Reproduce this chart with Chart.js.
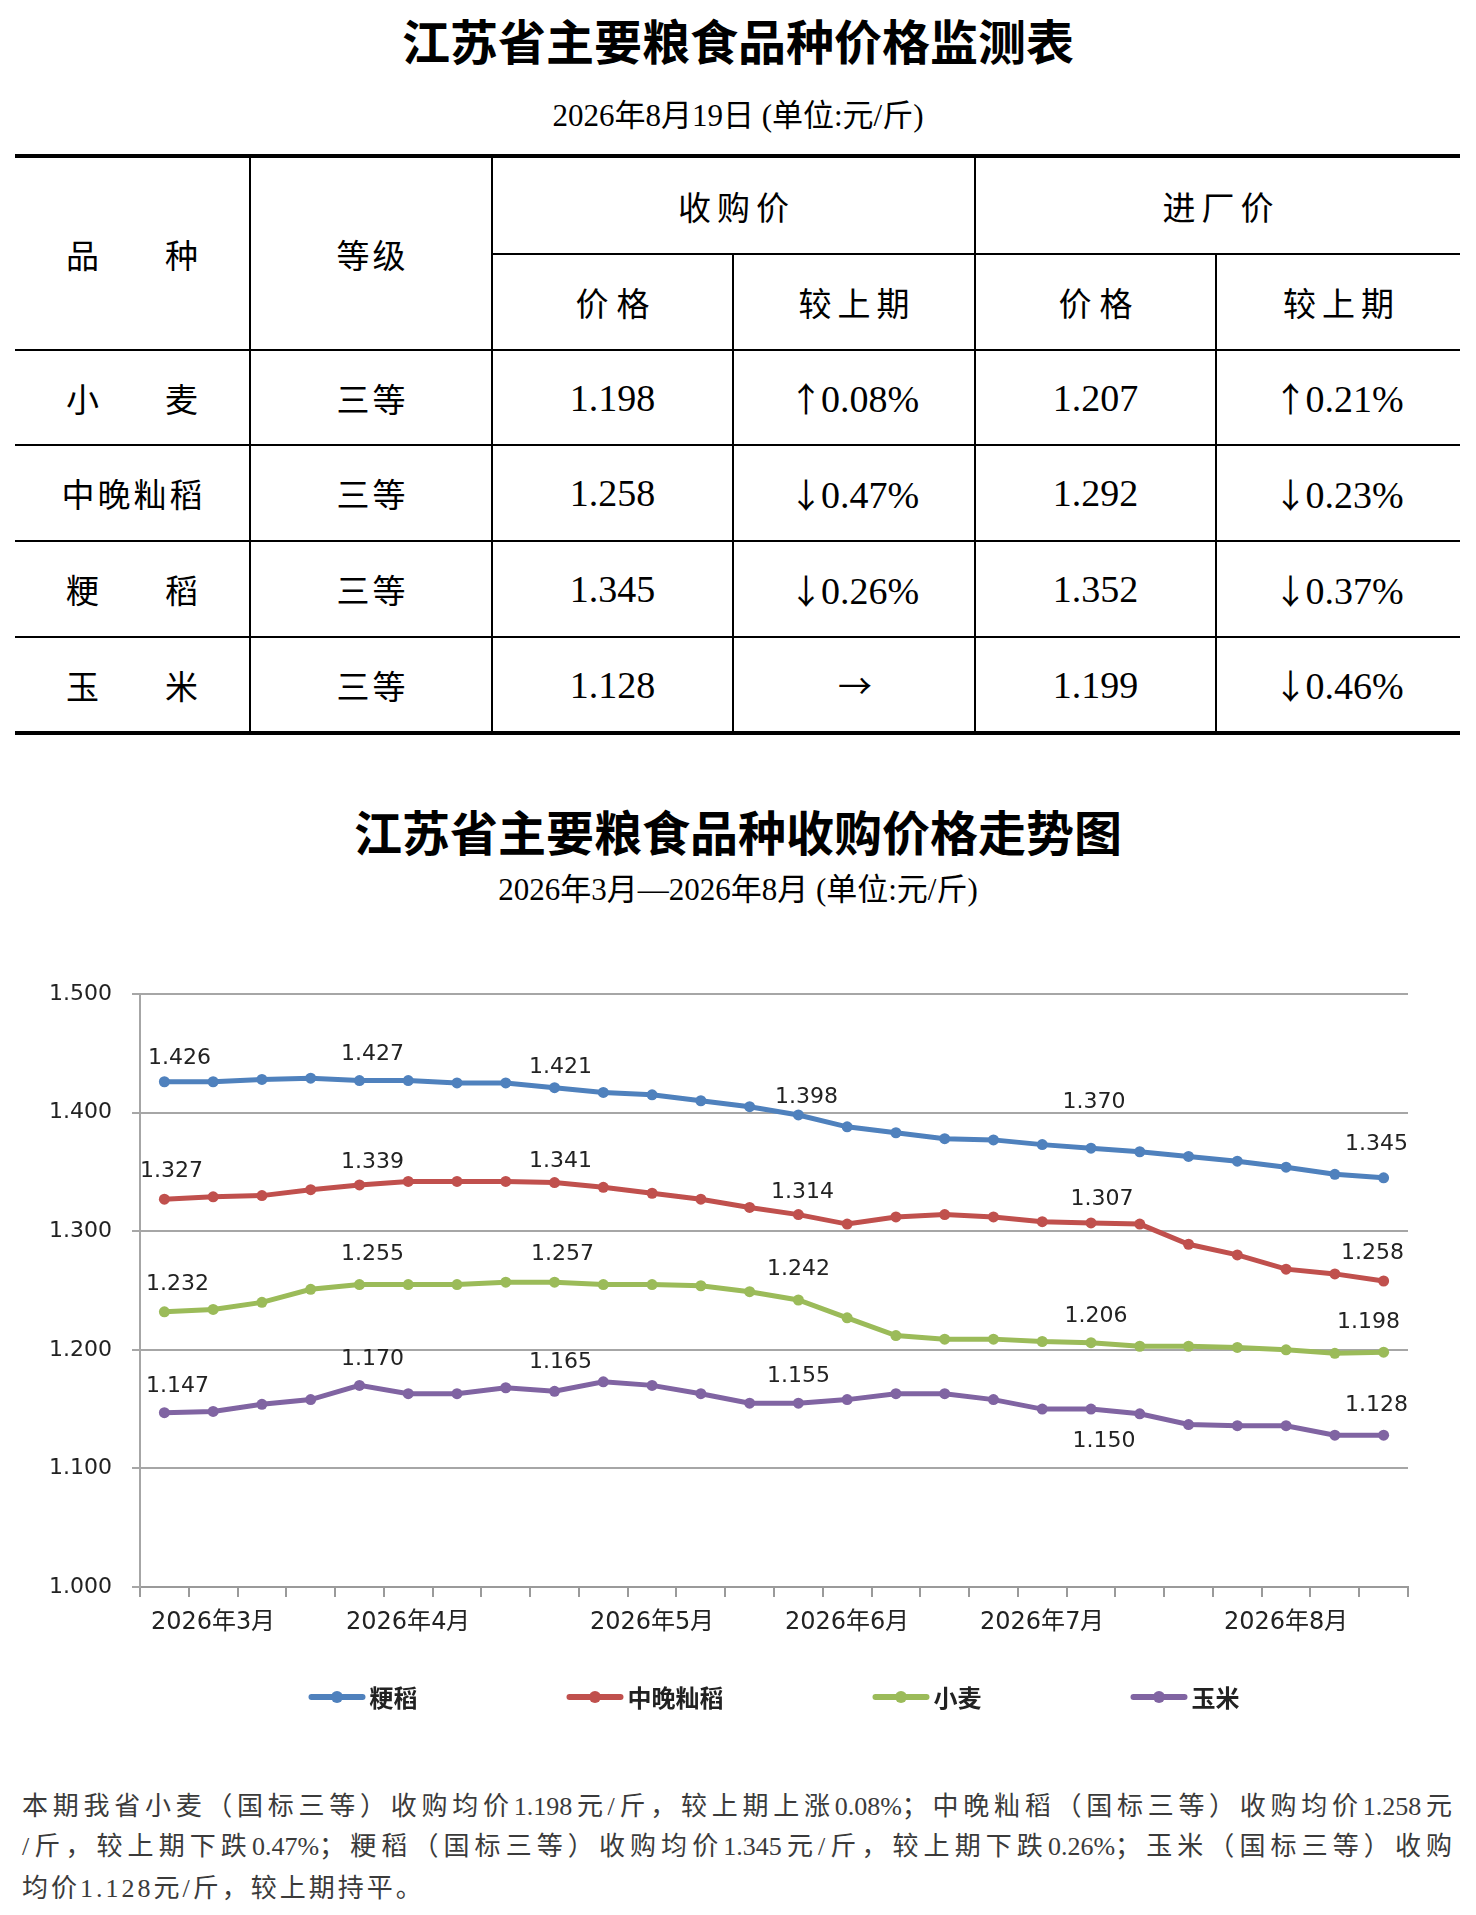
<!DOCTYPE html>
<html lang="zh-CN">
<head>
<meta charset="utf-8">
<title>江苏省主要粮食品种价格监测表</title>
<script src="https://cdn.jsdelivr.net/npm/chart.js@4.4.1/dist/chart.umd.min.js"></script>
<style>
  body { margin: 0; background: #fff; width: 1476px; height: 1915px; position: relative; color: #000;
         font-family: "Liberation Serif", "Noto Sans CJK SC", serif; }
  .title { position: absolute; left: 0; width: 1476px; height: 60px; line-height: 60px; text-align: center;
           font-family: "Noto Sans CJK SC", sans-serif; font-weight: bold; font-size: 48px; }
  .sub { position: absolute; left: 0; width: 1476px; height: 36px; line-height: 36px; text-align: center; font-size: 31px; }
  table { position: absolute; left: 15px; top: 154px; width: 1445px; border-collapse: collapse; table-layout: fixed; }
  td { border: 2px solid #000; text-align: center; vertical-align: middle; padding: 0; font-size: 33px; white-space: nowrap; }
  tr td:first-child { border-left: none; }
  tr td:last-child { border-right: none; }
  tr.first td { border-top: 4px solid #000; }
  tr.last td { border-bottom: 4px solid #000; }
  td.num { font-size: 38px; }
  .gap { margin-right: 66px; }
  .arr { font-family: "Noto Sans CJK SC", sans-serif; font-size: 34px; margin-right: -2px; }
  .sp3 { letter-spacing: 3px; padding-left: 3px; }
  .sp6 { letter-spacing: 6px; padding-left: 6px; }
  .sp8 { letter-spacing: 8px; padding-left: 8px; }
  #chartBox { position: absolute; left: 0; top: 940px; width: 1476px; height: 800px; }
  .para { position: absolute; left: 22px; width: 1430px; height: 40px; line-height: 40px; font-size: 26px;
          color: #3b3b3b; letter-spacing: 3px; white-space: nowrap; }
  .just { text-align: justify; text-align-last: justify; letter-spacing: 0; white-space: normal; }
</style>
</head>
<body>
<div class="title" style="top:9px">江苏省主要粮食品种价格监测表</div>
<div class="sub" style="top:98px">2026年8月19日 (单位:元/斤)</div>

<table>
  <colgroup>
    <col style="width:235px"><col style="width:242px"><col style="width:241px">
    <col style="width:242px"><col style="width:241px"><col style="width:244px">
  </colgroup>
  <tr class="first" style="height:98px">
    <td rowspan="2"><span class="gap">品</span>种</td>
    <td rowspan="2"><span class="sp3">等级</span></td>
    <td colspan="2"><span class="sp6">收购价</span></td>
    <td colspan="2"><span class="sp6">进厂价</span></td>
  </tr>
  <tr style="height:96px">
    <td><span class="sp8">价格</span></td>
    <td><span class="sp6">较上期</span></td>
    <td><span class="sp8">价格</span></td>
    <td><span class="sp6">较上期</span></td>
  </tr>
  <tr style="height:95px">
    <td><span class="gap">小</span>麦</td>
    <td><span class="sp3">三等</span></td>
    <td class="num">1.198</td>
    <td class="num"><span class="arr">↑</span>0.08%</td>
    <td class="num">1.207</td>
    <td class="num"><span class="arr">↑</span>0.21%</td>
  </tr>
  <tr style="height:96px">
    <td><span class="sp3">中晚籼稻</span></td>
    <td><span class="sp3">三等</span></td>
    <td class="num">1.258</td>
    <td class="num"><span class="arr">↓</span>0.47%</td>
    <td class="num">1.292</td>
    <td class="num"><span class="arr">↓</span>0.23%</td>
  </tr>
  <tr style="height:96px">
    <td><span class="gap">粳</span>稻</td>
    <td><span class="sp3">三等</span></td>
    <td class="num">1.345</td>
    <td class="num"><span class="arr">↓</span>0.26%</td>
    <td class="num">1.352</td>
    <td class="num"><span class="arr">↓</span>0.37%</td>
  </tr>
  <tr class="last" style="height:96px">
    <td><span class="gap">玉</span>米</td>
    <td><span class="sp3">三等</span></td>
    <td class="num">1.128</td>
    <td class="num"><span class="arr">→</span></td>
    <td class="num">1.199</td>
    <td class="num"><span class="arr">↓</span>0.46%</td>
  </tr>
</table>

<div class="title" style="top:800px">江苏省主要粮食品种收购价格走势图</div>
<div class="sub" style="top:872px">2026年3月—2026年8月 (单位:元/斤)</div>

<div id="chartBox"><canvas id="priceChart" width="1476" height="800"></canvas></div>

<div class="para just" style="top:1787px">本期我省小麦（国标三等）收购均价1.198元/斤，较上期上涨0.08%；中晚籼稻（国标三等）收购均价1.258元</div>
<div class="para just" style="top:1827px">/斤，较上期下跌0.47%；粳稻（国标三等）收购均价1.345元/斤，较上期下跌0.26%；玉米（国标三等）收购</div>
<div class="para" style="top:1869px">均价1.128元/斤，较上期持平。</div>

<script>
// x categories (only month starts are labelled)
const labels = ['', '2026年3月', '', '', '', '2026年4月', '', '', '', '', '2026年5月', '', '', '',
                '2026年6月', '', '', '', '2026年7月', '', '', '', '', '2026年8月', '', ''];

// 收购价 (元/斤)
const japonica = [1.426, 1.426, 1.428, 1.429, 1.427, 1.427, 1.425, 1.425, 1.421, 1.417, 1.415, 1.410, 1.405,
                  1.398, 1.388, 1.383, 1.378, 1.377, 1.373, 1.370, 1.367, 1.363, 1.359, 1.354, 1.348, 1.345];
const indica = [1.327, 1.329, 1.330, 1.335, 1.339, 1.342, 1.342, 1.342, 1.341, 1.337, 1.332, 1.327, 1.320,
                1.314, 1.306, 1.312, 1.314, 1.312, 1.308, 1.307, 1.306, 1.289, 1.280, 1.268, 1.264, 1.258];
const wheat = [1.232, 1.234, 1.240, 1.251, 1.255, 1.255, 1.255, 1.257, 1.257, 1.255, 1.255, 1.254, 1.249,
               1.242, 1.227, 1.212, 1.209, 1.209, 1.207, 1.206, 1.203, 1.203, 1.202, 1.200, 1.197, 1.198];
const corn = [1.147, 1.148, 1.154, 1.158, 1.170, 1.163, 1.163, 1.168, 1.165, 1.173, 1.170, 1.163, 1.155,
              1.155, 1.158, 1.163, 1.163, 1.158, 1.150, 1.150, 1.146, 1.137, 1.136, 1.136, 1.128, 1.128];

// points that carry a value label
const labelIndex = [0, 4, 8, 13, 19, 25];
const yTicks = [1.0, 1.1, 1.2, 1.3, 1.4, 1.5];

// where each value label sits relative to its point (px), one row per series
const labelShift = [
    { dx: [15, 13, 6, 8, 3, -7],    dy: [-23, -26, -20, -18, -46, -34] },
    { dx: [7, 13, 6, 4, 11, -11],   dy: [-28, -23, -21, -22, -24, -28] },
    { dx: [13, 13, 8, 0, 5, -15],   dy: [-28, -30, -28, -31, -26, -30] },
    { dx: [13, 13, 6, 0, 13, -7],   dy: [-26, -26, -29, -27, 32, -30] }
];

function series(name, data, color) {
    return {
        label: name,
        data: data,
        borderColor: color,
        backgroundColor: color,
        borderWidth: 5,
        pointRadius: 5.5,
        pointHoverRadius: 5.5,
        pointBorderWidth: 0,
        pointBackgroundColor: color,
        tension: 0,
        fill: false
    };
}

// value labels next to the marked points
const valueLabels = {
    id: 'valueLabels',
    afterDatasetsDraw(chart) {
        const ctx = chart.ctx;
        ctx.save();
        ctx.font = '22px "DejaVu Sans"';
        ctx.fillStyle = '#222';
        ctx.textAlign = 'center';
        ctx.textBaseline = 'middle';
        chart.data.datasets.forEach((ds, i) => {
            const meta = chart.getDatasetMeta(i);
            labelIndex.forEach((j, k) => {
                const pt = meta.data[j];
                ctx.fillText(ds.data[j].toFixed(3), pt.x + labelShift[i].dx[k], pt.y + labelShift[i].dy[k]);
            });
        });
        ctx.restore();
    }
};

// legend: line + dot, spread under the plot
const bottomLegend = {
    id: 'bottomLegend',
    afterDraw(chart) {
        const ctx = chart.ctx;
        const area = chart.chartArea;
        const lineW = 57, gap = 4, pad = 149;
        const y = area.bottom + 110;
        ctx.save();
        ctx.font = 'bold 24px "Noto Sans CJK SC"';
        const items = chart.data.datasets.map(ds => ({ ds: ds, w: lineW + gap + ctx.measureText(ds.label).width }));
        const total = items.reduce((s, it) => s + it.w, 0) + pad * (items.length - 1);
        let x = (area.left + area.right) / 2 - total / 2;
        items.forEach(it => {
            ctx.strokeStyle = it.ds.borderColor;
            ctx.lineWidth = 6;
            ctx.lineCap = 'round';
            ctx.beginPath();
            ctx.moveTo(x + 3, y);
            ctx.lineTo(x + lineW - 3, y);
            ctx.stroke();
            ctx.fillStyle = it.ds.borderColor;
            ctx.beginPath();
            ctx.arc(x + lineW / 2, y, 6, 0, Math.PI * 2);
            ctx.fill();
            ctx.fillStyle = '#222';
            ctx.textAlign = 'left';
            ctx.textBaseline = 'middle';
            ctx.fillText(it.ds.label, x + lineW + gap, y + 1);
            x += it.w + pad;
        });
        ctx.restore();
    }
};

const priceChart = document.getElementById('priceChart').getContext('2d');
new Chart(priceChart, {
    type: 'line',
    data: {
        labels: labels,
        datasets: [
            series('粳稻', japonica, '#4F81BD'),
            series('中晚籼稻', indica, '#C0504D'),
            series('小麦', wheat, '#9BBB59'),
            series('玉米', corn, '#8064A2')
        ]
    },
    options: {
        responsive: false,
        animation: false,
        layout: { padding: { top: 54, right: 68, bottom: 93, left: 0 } },
        plugins: {
            legend: { display: false },
            tooltip: { enabled: false }
        },
        scales: {
            x: {
                offset: true,
                grid: { offset: true, drawOnChartArea: false, tickLength: 10, color: '#9a9a9a', lineWidth: 2 },
                border: { color: '#9a9a9a', width: 2 },
                ticks: { autoSkip: false, maxRotation: 0, padding: 11, color: '#222', font: { family: 'DejaVu Sans', size: 24 } },
                afterFit: s => { s.height = 60; }
            },
            y: {
                min: yTicks[0],
                max: yTicks[yTicks.length - 1],
                afterBuildTicks: s => { s.ticks = yTicks.map(v => ({ value: v })); },
                grid: { color: '#a6a6a6', lineWidth: 2, tickLength: 8 },
                border: { color: '#a6a6a6', width: 2 },
                ticks: { padding: 20, color: '#222', font: { family: 'DejaVu Sans', size: 22 }, callback: v => v.toFixed(3) },
                afterFit: s => { s.width = 140; }
            }
        }
    },
    plugins: [valueLabels, bottomLegend]
});
</script>
</body>
</html>
